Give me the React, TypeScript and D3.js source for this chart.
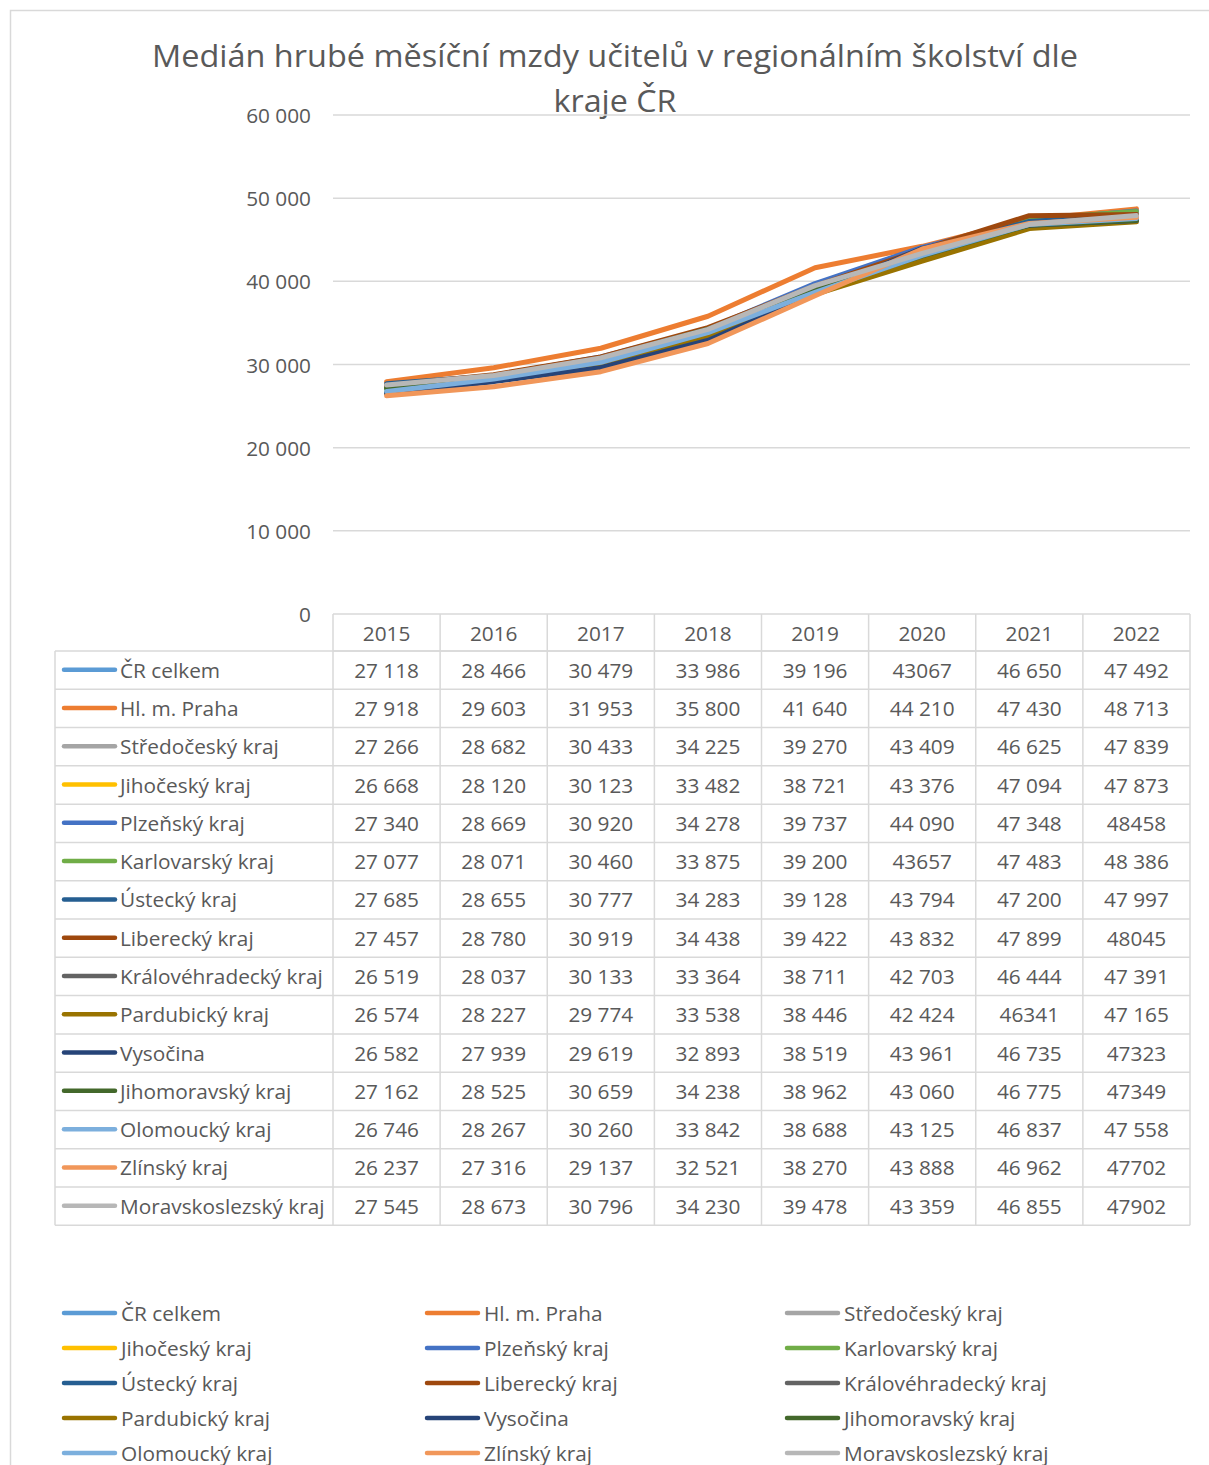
import React from "react";
import * as d3 from "d3";

const years = ["2015", "2016", "2017", "2018", "2019", "2020", "2021", "2022"];
const yTicks = [0, 10000, 20000, 30000, 40000, 50000, 60000];

const seriesNames = [
  "ČR celkem",
  "Hl. m. Praha",
  "Středočeský kraj",
  "Jihočeský kraj",
  "Plzeňský kraj",
  "Karlovarský kraj",
  "Ústecký kraj",
  "Liberecký kraj",
  "Královéhradecký kraj",
  "Pardubický kraj",
  "Vysočina",
  "Jihomoravský kraj",
  "Olomoucký kraj",
  "Zlínský kraj",
  "Moravskoslezský kraj",
];

const seriesColors = [
  "#5B9BD5", "#ED7D31", "#A5A5A5", "#FFC000", "#4472C4", "#70AD47", "#255E91",
  "#9E480E", "#636363", "#997300", "#264478", "#43682B", "#7CAFDD", "#F1975A", "#B7B7B7",
];

const crCelkem = ["27 118", "28 466", "30 479", "33 986", "39 196", "43067", "46 650", "47 492"];
const praha = ["27 918", "29 603", "31 953", "35 800", "41 640", "44 210", "47 430", "48 713"];
const stredocesky = ["27 266", "28 682", "30 433", "34 225", "39 270", "43 409", "46 625", "47 839"];
const jihocesky = ["26 668", "28 120", "30 123", "33 482", "38 721", "43 376", "47 094", "47 873"];
const plzensky = ["27 340", "28 669", "30 920", "34 278", "39 737", "44 090", "47 348", "48458"];
const karlovarsky = ["27 077", "28 071", "30 460", "33 875", "39 200", "43657", "47 483", "48 386"];
const ustecky = ["27 685", "28 655", "30 777", "34 283", "39 128", "43 794", "47 200", "47 997"];
const liberecky = ["27 457", "28 780", "30 919", "34 438", "39 422", "43 832", "47 899", "48045"];
const kralovehradecky = ["26 519", "28 037", "30 133", "33 364", "38 711", "42 703", "46 444", "47 391"];
const pardubicky = ["26 574", "28 227", "29 774", "33 538", "38 446", "42 424", "46341", "47 165"];
const vysocina = ["26 582", "27 939", "29 619", "32 893", "38 519", "43 961", "46 735", "47323"];
const jihomoravsky = ["27 162", "28 525", "30 659", "34 238", "38 962", "43 060", "46 775", "47349"];
const olomoucky = ["26 746", "28 267", "30 260", "33 842", "38 688", "43 125", "46 837", "47 558"];
const zlinsky = ["26 237", "27 316", "29 137", "32 521", "38 270", "43 888", "46 962", "47702"];
const moravskoslezsky = ["27 545", "28 673", "30 796", "34 230", "39 478", "43 359", "46 855", "47902"];

const seriesText = [
  crCelkem, praha, stredocesky, jihocesky, plzensky, karlovarsky, ustecky, liberecky,
  kralovehradecky, pardubicky, vysocina, jihomoravsky, olomoucky, zlinsky, moravskoslezsky,
];

const W = 1209;
const H = 1465;
const FONT = "'Open Sans', 'Noto Sans', sans-serif";
const TXT = "#595959";
const GRID = "#D9D9D9";
const FS = 20.8;

export default function App() {
  const plotLeft = 333;
  const plotRight = 1190;
  const x = d3.scaleBand<string>().domain(years).range([plotLeft, plotRight]).padding(0);
  const y = d3.scaleLinear().domain([0, 60000]).range([614, 115]);
  const fmt = (v: number) => d3.format(",")(v).replace(/,/g, " ");
  const cx = (yr: string) => (x(yr) as number) + x.bandwidth() / 2;

  const line = d3
    .line<number>()
    .x((_, i) => cx(years[i]))
    .y((v) => y(v));

  const series = seriesText.map((arr) => arr.map((s) => +s.replace(/\s/g, "")));

  const headerTop = y(0);
  const headerBottom = 651;
  const rowH = 38.29;
  const tableLeft = 55;
  const tableBottom = headerBottom + rowH * seriesNames.length;

  const legendCols = [62, 425, 785];
  const legendTop = 1313;
  const legendStep = 35;

  return (
    <svg
      width={W}
      height={H}
      style={{ position: "absolute", left: 0, top: 0, background: "#fff" }}
      fontFamily={FONT}
    >
      <rect x={0} y={0} width={W} height={H} fill="#fff" />
      <path d={`M10.5,${H} V10.5 H${W}`} fill="none" stroke={GRID} strokeWidth={1.5} />

      <text x={615} y={55} textAnchor="middle" dominantBaseline="central" fontSize={31} fill={TXT}
        textLength={926} lengthAdjust="spacingAndGlyphs">
        Medián hrubé měsíční mzdy učitelů v regionálním školství dle
      </text>
      <text x={615} y={100} textAnchor="middle" dominantBaseline="central" fontSize={31} fill={TXT}
        textLength={123} lengthAdjust="spacingAndGlyphs">
        kraje ČR
      </text>

      {yTicks.map((t) => (
        <g key={t}>
          <line x1={plotLeft} x2={plotRight} y1={y(t)} y2={y(t)} stroke={GRID} strokeWidth={1.5} />
          <text x={311} y={y(t)} textAnchor="end" dominantBaseline="central" fontSize={FS} fill={TXT}>
            {fmt(t)}
          </text>
        </g>
      ))}

      {series.map((vals, i) => (
        <path
          key={seriesNames[i]}
          d={line(vals) || ""}
          fill="none"
          stroke={seriesColors[i]}
          strokeWidth={5}
          strokeLinejoin="round"
          strokeLinecap="round"
        />
      ))}

      <line x1={plotLeft} x2={plotRight} y1={headerBottom} y2={headerBottom} stroke={GRID} strokeWidth={1.5} />
      {seriesNames.map((_, i) => (
        <line key={"h" + i} x1={tableLeft} x2={plotRight}
          y1={headerBottom + rowH * i} y2={headerBottom + rowH * i} stroke={GRID} strokeWidth={1.5} />
      ))}
      <line x1={tableLeft} x2={plotRight} y1={tableBottom} y2={tableBottom} stroke={GRID} strokeWidth={1.5} />
      <line x1={tableLeft} x2={tableLeft} y1={headerBottom} y2={tableBottom} stroke={GRID} strokeWidth={1.5} />
      {years.map((yr) => (
        <line key={"v" + yr} x1={x(yr)} x2={x(yr)} y1={headerTop} y2={tableBottom} stroke={GRID} strokeWidth={1.5} />
      ))}
      <line x1={plotRight} x2={plotRight} y1={headerTop} y2={tableBottom} stroke={GRID} strokeWidth={1.5} />

      {years.map((yr) => (
        <text key={"y" + yr} x={cx(yr)} y={(headerTop + headerBottom) / 2} textAnchor="middle"
          dominantBaseline="central" fontSize={FS} fill={TXT}>
          {yr}
        </text>
      ))}

      {seriesNames.map((name, i) => {
        const ry = headerBottom + rowH * (i + 0.5) - 0.5;
        return (
          <g key={"r" + name}>
            <line x1={64} x2={115} y1={ry} y2={ry} stroke={seriesColors[i]} strokeWidth={4.5} strokeLinecap="round" />
            <text x={120} y={ry} dominantBaseline="central" fontSize={FS} fill={TXT}>{name}</text>
            {seriesText[i].map((s, j) => (
              <text key={j} x={cx(years[j])} y={ry} textAnchor="middle" dominantBaseline="central"
                fontSize={FS} fill={TXT}>
                {s}
              </text>
            ))}
          </g>
        );
      })}

      {seriesNames.map((name, i) => {
        const col = i % 3;
        const row = Math.floor(i / 3);
        const lx = legendCols[col];
        const ly = legendTop + legendStep * row;
        return (
          <g key={"l" + name}>
            <line x1={lx + 2} x2={lx + 53} y1={ly} y2={ly} stroke={seriesColors[i]} strokeWidth={4.5} strokeLinecap="round" />
            <text x={lx + 59} y={ly} dominantBaseline="central" fontSize={FS} fill={TXT}>{name}</text>
          </g>
        );
      })}
    </svg>
  );
}
